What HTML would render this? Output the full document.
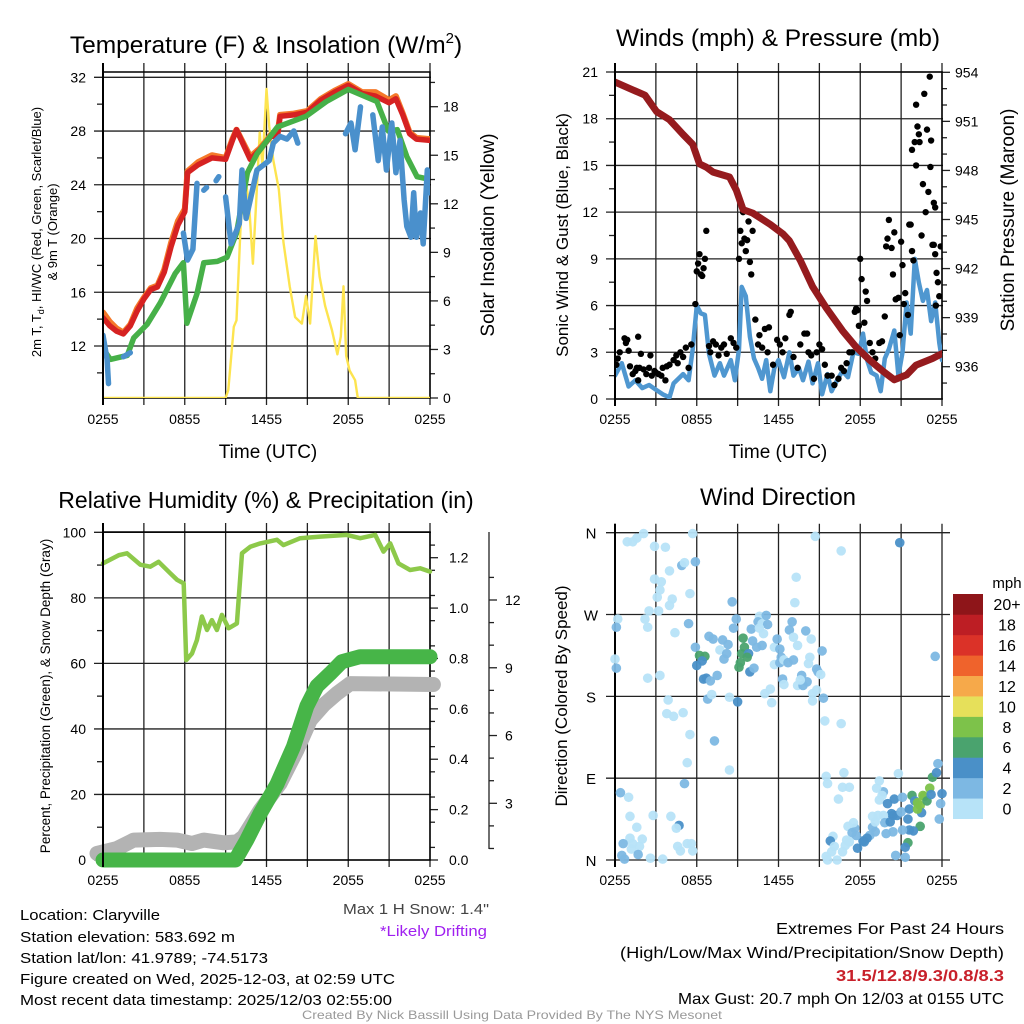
<!DOCTYPE html>
<html><head><meta charset="utf-8"><style>
html,body{margin:0;padding:0;background:#fff;}
svg{display:block;font-family:"Liberation Sans",sans-serif;}
</style></head><body>
<svg id="fig" width="1024" height="1024" viewBox="0 0 1024 1024">
<g id="g1"></g>
<g id="g2"></g>
<g id="g3"></g>
<g id="g4"></g>
<g id="txt">
<text x="20" y="920" font-size="15" textLength="140" lengthAdjust="spacingAndGlyphs">Location: Claryville</text>
<text x="20" y="942" font-size="15" textLength="215" lengthAdjust="spacingAndGlyphs">Station elevation: 583.692 m</text>
<text x="20" y="963" font-size="15" textLength="248" lengthAdjust="spacingAndGlyphs">Station lat/lon: 41.9789; -74.5173</text>
<text x="20" y="984" font-size="15" textLength="375" lengthAdjust="spacingAndGlyphs">Figure created on Wed, 2025-12-03, at 02:59 UTC</text>
<text x="20" y="1005" font-size="15" textLength="372" lengthAdjust="spacingAndGlyphs">Most recent data timestamp: 2025/12/03 02:55:00</text>
<text x="343" y="914" font-size="15" fill="#444" textLength="146" lengthAdjust="spacingAndGlyphs">Max 1 H Snow: 1.4"</text>
<text x="380" y="936" font-size="15" fill="#a020f0" textLength="107" lengthAdjust="spacingAndGlyphs">*Likely Drifting</text>
<text x="1004" y="934" font-size="16" text-anchor="end" textLength="228" lengthAdjust="spacingAndGlyphs">Extremes For Past 24 Hours</text>
<text x="1004" y="958" font-size="16" text-anchor="end" textLength="384" lengthAdjust="spacingAndGlyphs">(High/Low/Max Wind/Precipitation/Snow Depth)</text>
<text x="1004" y="981" font-size="16" font-weight="bold" fill="#c8202a" text-anchor="end" textLength="168" lengthAdjust="spacingAndGlyphs">31.5/12.8/9.3/0.8/8.3</text>
<text x="1004" y="1004" font-size="16" text-anchor="end" textLength="326" lengthAdjust="spacingAndGlyphs">Max Gust: 20.7 mph On 12/03 at 0155 UTC</text>
<text x="512" y="1019" font-size="12" fill="#999" text-anchor="middle" textLength="420" lengthAdjust="spacingAndGlyphs">Created By Nick Bassill Using Data Provided By The NYS Mesonet</text>
</g>
</svg>
<script>
// ---------- DATA ----------
const timeLabels=["0255","0855","1455","2055","0255"];
const tempTicks=[12,16,20,24,28,32];
const insolTicks=[0,3,6,9,12,15,18];
const windTicks=[0,3,6,9,12,15,18,21];
const presTicks=[936,939,942,945,948,951,954];
const rhTicks=[0,20,40,60,80,100];
const precipTicks=["0.0","0.2","0.4","0.6","0.8","1.0","1.2"];
const snowTicks=[3,6,9,12];
const dirLabels=["N","E","S","W","N"];
const speedBins=["0","2","4","6","8","10","12","14","16","18","20+"];
const speedColors=["#b7e3f8","#7db8e3","#4a90c8","#4aa36e","#7dc24a","#e6e05a","#f6a94a","#ef632c","#db3228","#bd1e24","#8e1519"];

const redT=[0,0.5,1,1.5,2,2.5,3,3.5,4,4.5,5,5.5,6,6.2,7,8,9,9.5,9.8,10.3,10.8,11.5,12,12.3,12.8,13,14,15,16,17,18,19,20,21,21.5,22,22.5,23,24];
const redV=[14.1,13.5,13.1,12.9,13.5,14.6,15.5,16.2,16.4,17.5,19.4,21,22,24.9,25.5,26,25.9,27.3,28.1,27,25.9,26.6,27.2,27.6,27.6,29.1,29.2,29.4,30.3,30.9,31.4,30.8,30.6,30.1,30.4,29.2,27.8,27.4,27.3];
const orangeV=[14.5,13.8,13.3,13.0,13.6,14.8,15.6,16.3,16.5,17.7,19.7,21.3,22.2,25.0,25.7,26.2,26.0,27.4,28.1,27.1,26.1,26.7,27.3,27.7,27.7,29.2,29.3,29.5,30.4,31.0,31.5,30.9,30.9,30.3,30.6,29.3,27.9,27.5,27.4];
const greenT=[0,0.54,1.78,2.25,3.23,4.2,5.3,5.9,6.16,6.9,7.4,8.4,9.1,9.8,10.6,11.3,12.8,14.9,16.4,18,20.1,20.95,21.6,22.3,23.05,24];
const greenV=[11.8,11.0,11.3,12.6,13.6,15.2,17.4,18.2,13.7,15.9,18.2,18.3,18.6,20.4,24.9,26.3,28.3,29.1,30.2,31.1,30.2,28.0,28.1,26.1,24.6,24.4];
const blueT=[0,0.3,0.4,null,1.5,2,null,5.9,6.2,6.6,6.9,null,7.4,7.6,null,8.3,8.5,null,9,9.4,10,10.2,10.5,11.3,12.2,12.5,13,13.5,14,14.3,null,17.8,18.2,18.5,18.9,null,19.8,20.2,20.5,20.8,21.2,21.5,21.8,22.1,22.3,22.6,22.8,23,23.3,23.5,23.8,24];
const blueV=[12.8,11,9.2,null,11.2,11.5,null,20.4,18.4,19.2,24.1,null,23.6,23.8,null,24.3,24.6,null,23.1,19.6,21.1,25.1,21.5,25.1,25.8,27.1,27.6,27.4,28,27.1,null,27.8,28.6,26.6,29.8,null,29.2,25.8,28.3,25.1,28.6,24.9,27.3,22.9,20.9,20.1,23.4,20.1,21.9,19.6,25.1,23.4];
const insolT=[0,9,9.2,9.6,9.8,10.1,10.4,10.7,11,11.3,11.5,11.7,12,12.2,12.5,12.9,13.25,13.7,14.1,14.6,14.9,15.2,15.6,15.9,16.3,16.8,17.2,17.45,17.65,17.85,18.1,18.5,18.7,24];
const insolV=[0,0,0.5,4.4,4.8,10.6,13.7,12.2,8.3,13.1,16.4,14.3,19.1,16.8,14.7,12.9,9.6,6.9,5,4.6,6.3,4.6,10,7.5,5.7,4.2,2.7,3.8,6.9,2.6,1.7,1.1,0,0];

const presT=[0,1.1,2.2,3.05,4,5,5.7,6.2,6.7,7.2,8.4,8.9,9.4,10.1,11.4,12.35,12.8,13.6,14.5,15.5,16.7,17.7,18.7,19.7,20.5,21.4,22.1,23.3,24];
const presV=[953.4,953,952.6,951.6,951.1,950.2,949.6,948.4,948.2,947.9,947.6,946.8,945.6,945.4,944.7,944.1,943.7,942.5,940.9,939.6,938.2,937.2,936.4,935.7,935.2,935.5,936.1,936.5,936.8];
const windT=[0,0.5,1,1.5,2,2.5,3,3.5,4,4.3,5,5.4,5.7,6,6.3,6.6,6.9,7.3,7.7,8,8.5,8.8,9.1,9.3,9.6,9.9,10.2,10.5,10.8,11.1,11.4,11.7,12,12.4,12.8,13.1,13.5,13.8,14.2,14.5,14.9,15.2,15.6,15.9,16.3,16.7,17.1,17.5,17.9,18.2,18.5,18.8,19.2,19.5,19.8,20.1,20.5,20.8,21.1,21.4,21.7,22,22.3,22.6,22.9,23.2,23.5,23.8,24];
const windV=[1.5,2.3,0.8,1.2,0.7,0.9,0.6,0.3,0.1,1.0,1.6,1.2,3.2,6,5.5,5.4,2.9,1.5,2.3,1.5,2.5,1.2,3.2,7.2,6.6,4.0,2.6,2.0,1.3,2.5,0.5,2.0,2.5,1.4,3.0,1.5,2.0,1.2,2.4,1.0,2.3,0.3,1.6,0.5,1.2,1.8,1.4,3.0,2.9,4.2,2.5,1.7,1.5,0.5,2.6,3.2,4.4,1.5,3.0,6.2,4.2,9.0,7.5,6.3,7.0,5.0,6.2,3.6,2.5];
const gustT=[0.1,0.2,0.35,0.7,0.8,0.9,1.0,1.1,1.3,1.5,1.6,1.7,1.8,1.9,1.7,2.1,2.3,2.5,2.6,2.7,2.9,3.0,3.2,3.4,3.5,3.7,3.8,4.0,4.3,4.5,4.6,4.8,5.0,5.2,5.4,5.6,5.9,6.0,6.1,6.2,6.3,6.4,6.5,6.6,6.7,6.9,7.0,7.2,7.4,7.6,7.8,8.0,8.2,8.5,8.7,8.9,9.1,9.2,9.3,9.4,9.5,9.6,9.7,9.8,9.9,10.0,10.1,10.3,10.5,10.6,10.8,11.0,11.2,11.3,11.6,11.9,12.1,12.3,12.5,12.8,12.9,13.1,13.4,13.6,13.9,14.1,14.2,14.4,14.6,14.8,15.0,15.2,15.4,15.6,15.9,16.1,16.4,16.6,16.8,17.0,17.2,17.4,17.6,17.7,17.8,17.9,18.0,18.1,18.3,18.4,18.5,18.7,18.9,19.1,19.4,19.6,19.8,19.9,20.0,20.1,20.3,20.4,20.5,20.6,20.8,20.9,21.0,21.1,21.2,21.3,21.5,21.6,21.7,21.8,21.9,21.8,22.0,22.1,22.2,22.3,22.35,22.1,22.6,22.5,22.7,22.8,22.9,23.1,23.2,23.15,23.0,23.4,23.5,23.3,23.4,23.5,23.6,23.7,23.8,23.55,23.9];
const gustV=[2.2,2.6,3.0,3.9,3.6,3.8,3.1,2.1,1.6,1.8,2.0,1.2,2.0,2.9,4.0,1.9,1.6,2.0,2.8,1.5,1.8,1.7,1.6,1.5,2.0,1.2,2.1,2.2,2.5,2.8,2.3,3.0,2.7,3.3,2.0,3.5,6.1,8.2,8.7,9.3,8.0,7.9,8.4,9.0,10.8,3.4,3.0,3.7,3.5,2.8,3.3,3.5,2.9,3.9,3.6,3.3,9.0,10.8,10.0,12.0,10.3,9.5,10.2,11.4,8.8,8.0,10.8,5.1,3.5,4.1,3.3,4.5,3.0,4.6,2.2,3.8,3.5,3.0,3.9,5.4,5.6,2.7,2.0,3.5,4.2,4.2,3.0,2.8,1.3,3.0,3.5,3.2,2.2,1.5,1.5,0.9,1.3,2.0,1.8,2.3,3.0,3.0,5.6,5.8,5.7,4.7,9.0,7.7,4.9,6.9,6.3,3.6,3.0,2.6,3.6,3.7,5.3,9.8,10.3,11.5,9.7,8.0,10.7,6.4,6.5,4.1,10.1,8.6,6.1,6.8,5.4,11.2,11.2,9.5,8.9,16.0,16.5,18.9,17.5,17.0,16.5,15.0,13.8,10.5,19.6,12.0,17.3,20.7,16.6,14.9,13.3,12.6,12.3,9.9,9.9,9.3,8.1,7.5,6.6,6.0,9.8];

const rhT=[0,1.15,1.76,2.74,3.47,4.08,4.94,5.43,5.92,6.11,6.53,6.89,7.26,7.63,7.99,8.36,8.73,9.22,9.83,10.2,10.81,11.54,12.76,13.25,14.47,15.94,17.9,18.88,19.98,20.59,21.08,21.69,22.54,23.27,24];
const rhV=[90.5,93,93.6,90.1,89.5,91,87.5,85.5,84.4,61,63,67.1,74.3,70.2,73.2,70.2,74.8,70.7,72.2,93.6,95.6,96.6,97.7,96.1,98.2,98.7,99.2,98.2,99.2,94.1,96.6,90.5,88.5,89,88];
const precipT=[0,9.71,10.56,11.54,12.76,13.98,14.96,15.7,16.67,17.53,18.87,24];
const precipV=[0,0,0.08,0.185,0.30,0.45,0.61,0.69,0.74,0.787,0.807,0.807];
const snowT=[-0.44,1.03,2.25,4.2,5.43,6.53,7.39,8.85,9.83,10.32,11.54,13.0,14.23,15.21,16.19,17.17,18.14,24.25];
const snowV=[0.78,1.0,1.37,1.4,1.37,1.22,1.37,1.25,1.29,1.52,2.7,3.88,5.35,6.68,7.35,7.86,8.3,8.26];
const driftT=[2.15,2.5];
const driftV=[0.5,0.72];

const dirT=[0.9,1.3,1.6,2.1,2.9,3.7,4.9,5.1,5.9,5.7,2.9,3.4,3.3,4.0,3.1,4.2,4.0,5.5,2.5,3.2,2.2,2.4,4.4,5.4,0.2,0.1,0.0,0.1,2.4,3.3,3.9,3.8,4.3,5.0,5.5,7.3,5.3,5.1,8.4,0.4,1.0,1.1,2.8,4.1,4.7,4.5,1.6,2.0,1.1,0.6,1.3,1.8,1.2,0.5,0.7,1.7,2.6,3.5,4.6,4.8,5.3,5.6,5.7,
8.6,8.9,8.7,5.9,6.2,6.6,6.4,6.0,6.7,6.5,7.0,7.5,6.9,7.2,7.9,8.3,7.7,8.2,8.0,6.8,7.1,8.4,9.0,9.4,9.5,9.3,9.8,9.2,9.1,9.7,9.9,10.2,10.0,10.1,10.4,10.8,10.6,10.5,10.8,11.1,11.2,10.9,10.6,11.0,11.4,11.5,11.7,11.7,12.1,11.9,12.2,12.1,12.4,12.8,13.0,13.1,13.4,12.7,13.1,12.3,12.4,13.4,13.7,13.8,14.1,13.6,14.0,14.4,14.3,14.2,14.8,14.9,15.1,15.2,14.5,14.8,14.5,15.3,15.4,16.6,13.3,13.2,14.7,16.6,20.9,23.5,
15.5,15.6,16.8,16.7,17.2,16.4,19.4,19.7,19.2,19.4,19.6,20.5,20.0,21.1,20.8,20.3,20.4,20.7,21.0,21.6,19.7,19.8,20.2,21.5,21.8,22.0,22.2,22.4,22.6,22.7,22.9,23.1,23.2,22.5,22.2,23.3,23.6,23.7,24.0,23.9,23.8,22.4,21.9,21.6,21.1,21.5,21.3,20.6,21.3,20.4,19.9,19.1,18.9,18.7,18.5,18.3,18.2,17.8,17.7,17.6,17.5,17.1,17.4,17.0,16.9,17.2,16.0,15.8,16.1,15.9,15.5,15.6,16.3,16.7,19.1,19.3,18.9];
const dirV=[350,350,354,359,345,344,324,327,328,359,309,306,297,318,289,287,280,293,274,274,265,256,250,260,265,256,221,211,200,203,176,161,158,162,138,131,107,84,99,74,69,48,49,48,38,35,36,23,24,18,18,15,12,5,1,6,2,1,15,10,18,18,10,
284,265,255,234,225,224,219,214,200,199,197,203,246,243,242,237,231,227,221,177,182,179,174,244,234,227,227,217,212,223,207,211,254,241,234,236,268,262,260,269,259,249,255,183,188,173,215,234,232,243,223,217,220,253,262,245,236,217,220,199,193,192,203,192,196,198,252,243,223,216,210,207,204,230,183,187,175,178,153,150,311,283,356,340,349,224,
92,84,96,80,80,67,87,75,79,66,71,67,62,69,95,51,49,49,53,56,49,41,42,45,71,65,63,60,71,70,65,79,72,52,56,91,96,106,73,62,45,37,32,33,33,19,14,5,3,31,29,31,36,27,24,20,21,13,27,35,41,37,30,22,16,20,26,21,15,9,4,0,0,9,42,49,48];
const dirS=[1,1,1,1,1,1,3,1,3,1,1,1,1,1,1,1,1,1,1,1,1,1,1,3,1,3,1,3,1,1,1,1,1,1,1,3,1,3,1,3,1,1,1,1,4,1,1,1,1,3,1,1,1,3,3,3,1,1,1,1,1,1,1,
3,3,3,3,6,6,5,4,4,4,3,3,3,3,3,3,1,3,3,3,1,1,4,6,6,6,4,6,6,6,4,3,3,3,3,3,1,3,1,3,3,1,1,1,1,1,1,1,3,3,3,3,1,3,3,1,1,3,3,3,1,1,3,3,3,1,3,1,1,1,3,3,1,3,1,1,1,3,1,1,1,1,1,1,4,3,
1,1,1,1,1,1,1,3,1,1,1,4,4,3,1,4,4,4,3,4,1,3,4,4,6,4,8,8,8,8,6,8,4,4,8,6,4,3,4,3,3,6,4,4,3,6,4,3,3,3,3,3,3,3,4,4,4,4,3,3,1,1,3,1,1,1,1,4,1,1,1,1,1,1,1,1,1];

// ---------- HELPERS ----------
const NS="http://www.w3.org/2000/svg";
function mk(parent,tag,attrs,txt){const e=document.createElementNS(NS,tag);for(const k in attrs)e.setAttribute(k,attrs[k]);if(txt!==undefined)e.textContent=txt;parent.appendChild(e);return e;}
function lin(d0,d1,r0,r1){return v=>r0+(v-d0)*(r1-r0)/(d1-d0);}
function pathD(T,V,sx,sy){let d="",pen=false;for(let i=0;i<T.length;i++){if(T[i]===null||V[i]===null){pen=false;continue;}d+=(pen?"L":"M")+sx(T[i]).toFixed(1)+" "+sy(V[i]).toFixed(1);pen=true;}return d;}
function line(g,T,V,sx,sy,col,w,name){const p=mk(g,"path",{d:pathD(T,V,sx,sy),fill:"none",stroke:col,"stroke-width":w,"stroke-linejoin":"round","stroke-linecap":"round"});


return p;}
function txt(g,x,y,s,opt,name){const t=mk(g,"text",Object.assign({x:x,y:y},opt),s);


return t;}
function frame(g,L,R,T,B,sx,clipId){
  const grid=mk(g,"g",{stroke:"#222","stroke-width":1.3});
  
  
  for(let h=0;h<=24;h+=3){const x=sx(h);mk(grid,"line",{x1:x,x2:x,y1:T-9,y2:B+7});}
  const cp=mk(g,"clipPath",{id:clipId});
  mk(cp,"rect",{x:L,y:T,width:R-L,height:B-T});
  return grid;
}
function xlabels(g,sx,y){for(let i=0;i<timeLabels.length;i++){txt(g,sx(i*6),y,timeLabels[i],{"font-size":14,"text-anchor":"middle"},'x-tick-label');}}

// ---------- PANEL 1 ----------
(function(){
const g=document.getElementById("g1");
const L=103,R=430,T=72,B=398;
const sx=lin(0,24,L,R), sy=lin(12,32,346,77.3), sr=lin(0,18,398,106.7);
const grid=frame(g,L,R,T,B,sx,"c1");
for(const v of tempTicks){const y=sy(v);mk(grid,"line",{x1:94,x2:R+1,y1:y,y2:y});txt(g,86,y+5,String(v),{"font-size":14,"text-anchor":"end"},'y-tick-label');}
for(let v=10;v<=30;v+=4){const y=sy(v);mk(grid,"line",{x1:97,x2:L,y1:y,y2:y});}
for(const v of insolTicks){const y=sr(v);mk(grid,"line",{x1:R,x2:R+8,y1:y,y2:y});txt(g,443,y+5,String(v),{"font-size":14},'y2-tick-label');}
for(let v=1.5;v<20;v+=3){const y=sr(v);mk(grid,"line",{x1:R,x2:R+5,y1:y,y2:y});}
mk(g,"rect",{x:L,y:T,width:R-L,height:B-T,fill:"none",stroke:"#000","stroke-width":1.5});
const d=mk(g,"g",{"clip-path":"url(#c1)"});
line(d,insolT,insolV,sx,sr,"#fde44f",2.4,'insolation-line');
line(d,redT,orangeV,sx,sy,"#f5792a",6,'9m-temp-line');
line(d,redT,redV,sx,sy,"#d62222",5.5,'2m-temp-line');
line(d,greenT,greenV,sx,sy,"#46b048",5.5,'dewpoint-line');
line(d,blueT,blueV,sx,sy,"#4a90cc",5.5,'windchill-line');
mk(g,"line",{x1:L,x2:L,y1:T-9,y2:B+7,stroke:"#000","stroke-width":2});
const ti=txt(g,266,53,"Temperature (F) & Insolation (W/m",{"font-size":24.5,"text-anchor":"middle"},'panel1-title');
mk(ti,"tspan",{"font-size":15,dy:-10},"2");mk(ti,"tspan",{dy:10},")");
xlabels(g,sx,424);
txt(g,268,458,"Time (UTC)",{"font-size":19,"text-anchor":"middle"},'x-axis-title');
const yl=txt(g,0,0,"",{"font-size":13,"text-anchor":"middle",transform:"translate(41,232) rotate(-90)"},'y-axis-title');
yl.innerHTML='2m T, T<tspan font-size="9" dy="3">d</tspan><tspan dy="-3">, HI/WC (Red, Green, Scarlet/Blue)</tspan>';
txt(g,0,0,"& 9m T (Orange)",{"font-size":13,"text-anchor":"middle",transform:"translate(57,232) rotate(-90)"},'y-axis-title-2');
txt(g,0,0,"Solar Insolation (Yellow)",{"font-size":19,"text-anchor":"middle",transform:"translate(494,235) rotate(-90)"},'y2-axis-title');
})();

// ---------- PANEL 2 ----------
(function(){
const g=document.getElementById("g2");
const L=615,R=942,T=72,B=399;
const sx=lin(0,24,L,R), sy=lin(0,21,399,72), sp=lin(936,954,366.7,72.3);
const grid=frame(g,L,R,T,B,sx,"c2");
for(const v of windTicks){const y=sy(v);mk(grid,"line",{x1:606,x2:R+1,y1:y,y2:y});txt(g,598,y+5,String(v),{"font-size":14,"text-anchor":"end"},'y-tick-label');}
for(let v=1.5;v<21;v+=3){const y=sy(v);mk(grid,"line",{x1:609,x2:L,y1:y,y2:y});}
for(const v of presTicks){const y=sp(v);mk(grid,"line",{x1:R,x2:R+8,y1:y,y2:y});txt(g,955,y+5,String(v),{"font-size":14},'y2-tick-label');}
for(let v=935;v<954;v+=1){if(v%3===0)continue;const y=sp(v);if(y>B)continue;mk(grid,"line",{x1:R,x2:R+5,y1:y,y2:y});}
mk(g,"rect",{x:L,y:T,width:R-L,height:B-T,fill:"none",stroke:"#000","stroke-width":1.5});
const d=mk(g,"g",{"clip-path":"url(#c2)"});
line(d,windT,windV,sx,sy,"#4f97d0",4.5,'sonic-wind-line');
const gd=mk(d,"g",{fill:"#000"});


for(let i=0;i<gustT.length;i++){const c=mk(gd,"circle",{cx:sx(gustT[i]),cy:sy(gustV[i]),r:3.2});

}
line(d,presT,presV,sx,sp,"#951b1e",7,'pressure-line');
mk(g,"line",{x1:L,x2:L,y1:T-9,y2:B+7,stroke:"#000","stroke-width":2});
txt(g,778,46,"Winds (mph) & Pressure (mb)",{"font-size":24.5,"text-anchor":"middle"},'panel2-title');
xlabels(g,sx,424);
txt(g,778,458,"Time (UTC)",{"font-size":19,"text-anchor":"middle"},'x-axis-title');
txt(g,0,0,"Sonic Wind & Gust (Blue, Black)",{"font-size":17,"text-anchor":"middle",transform:"translate(568,235) rotate(-90)"},'y-axis-title');
txt(g,0,0,"Station Pressure (Maroon)",{"font-size":19,"text-anchor":"middle",transform:"translate(1014,220) rotate(-90)"},'y2-axis-title');
})();

// ---------- PANEL 3 ----------
(function(){
const g=document.getElementById("g3");
const L=103,R=430,T=532,B=860;
const sx=lin(0,24,L,R), sy=lin(0,100,860,532.3), sp=lin(0,1.2,860,557.7), ss=lin(3,12,803.3,600);
const grid=frame(g,L,R,T,B,sx,"c3");
for(const v of rhTicks){const y=sy(v);mk(grid,"line",{x1:94,x2:R+1,y1:y,y2:y});txt(g,86,y+5,String(v),{"font-size":14,"text-anchor":"end"},'y-tick-label');}
for(let v=10;v<100;v+=20){const y=sy(v);mk(grid,"line",{x1:97,x2:L,y1:y,y2:y});}
for(const s of precipTicks){const y=sp(parseFloat(s));mk(grid,"line",{x1:R,x2:R+8,y1:y,y2:y});txt(g,449,y+5,s,{"font-size":14},'y2-tick-label');}
for(let v=0.05;v<1.3;v+=0.1){const y=sp(v);mk(grid,"line",{x1:R,x2:R+5,y1:y,y2:y});}
mk(grid,"line",{x1:489,x2:489,y1:532,y2:849});
for(const v of snowTicks){const y=ss(v);mk(grid,"line",{x1:489,x2:497,y1:y,y2:y});txt(g,505,y+5,String(v),{"font-size":14},'snow-tick-label');}
for(let v=1;v<=13;v++){if(v%3===0)continue;const y=ss(v);if(y<532||y>849)continue;mk(grid,"line",{x1:489,x2:494,y1:y,y2:y});}
mk(g,"rect",{x:L,y:T,width:R-L,height:B-T,fill:"none",stroke:"#000","stroke-width":1.5});
line(g,rhT,rhV,sx,sy,"#8dc94a",4.5,'rh-line');
line(g,snowT,snowV,sx,ss,"#b3b3b3",15,'snow-depth-line');
line(g,driftT,driftV,sx,ss,"#a020f0",3.5,'drifting-marker');
line(g,precipT,precipV,sx,sp,"#47b548",15,'precip-line');
mk(g,"line",{x1:L,x2:L,y1:T-9,y2:B+7,stroke:"#000","stroke-width":2});
txt(g,266,508,"Relative Humidity (%) & Precipitation (in)",{"font-size":23,"text-anchor":"middle"},'panel3-title');
xlabels(g,sx,885);
txt(g,0,0,"Percent, Precipitation (Green), & Snow Depth (Gray)",{"font-size":13.5,"text-anchor":"middle",transform:"translate(50,696) rotate(-90)"},'y-axis-title');
})();

// ---------- PANEL 4 ----------
(function(){
const g=document.getElementById("g4");
const L=615,R=942,T=532.7,B=860;
const sx=lin(0,24,L,R), sy=lin(0,360,860,532.7);
const grid=frame(g,L,R,T,B,sx,"c4");
for(let i=0;i<dirLabels.length;i++){const y=sy(i*90);mk(grid,"line",{x1:606,x2:R+8,y1:y,y2:y});txt(g,591,y+6,dirLabels[i],{"font-size":15,"text-anchor":"middle"},'direction-label');}
mk(g,"line",{x1:L,x2:L,y1:T-9,y2:B+7,stroke:"#000","stroke-width":2});
const d=mk(g,"g",{"fill-opacity":0.95});


for(let i=0;i<dirT.length;i++){const bin=Math.min(10,Math.floor(dirS[i]/2));
const c=mk(d,"circle",{cx:sx(dirT[i]),cy:sy(dirV[i]),r:4.8,fill:speedColors[bin]});

}
txt(g,778,505,"Wind Direction",{"font-size":24,"text-anchor":"middle"},'panel4-title');
xlabels(g,sx,885);
txt(g,0,0,"Direction (Colored By Speed)",{"font-size":17,"text-anchor":"middle",transform:"translate(567,696) rotate(-90)"},'y-axis-title');
const cb=mk(g,"g",{});


const bh=(818.7-594)/speedBins.length;
for(let i=0;i<speedBins.length;i++){const y=818.7-(i+1)*bh;
const r=mk(cb,"rect",{x:953,y:y,width:30,height:bh+0.3,fill:speedColors[i]});


txt(cb,1007,y+bh/2+6,speedBins[i],{"font-size":16,"text-anchor":"middle"},'colorbar-label');}
txt(cb,1007,588,"mph",{"font-size":15,"text-anchor":"middle"},'colorbar-title');
})();
</script>
</body></html>
